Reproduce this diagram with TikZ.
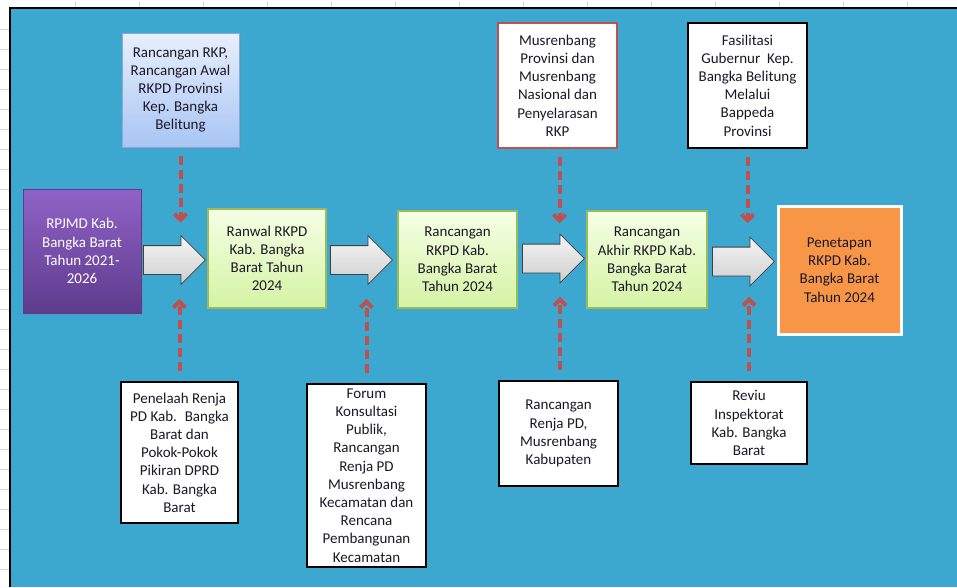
\documentclass[tikz,border=0pt]{standalone}
\usepackage{fontspec}
\setmainfont{Carlito}
\usepackage{tikz}
\usetikzlibrary{arrows.meta,shapes.arrows,shadows}
\usepackage{xcolor}
\definecolor{bgblue}{RGB}{60,168,208}
\definecolor{gridgray}{RGB}{215,215,215}
\definecolor{txtdark}{RGB}{28,24,40}
\definecolor{rkpblue1}{RGB}{232,239,253}
\definecolor{rkpblue2}{RGB}{168,197,244}
\definecolor{rkpedge}{RGB}{140,168,214}
\definecolor{purple1}{RGB}{143,99,199}
\definecolor{purple2}{RGB}{94,59,140}
\definecolor{green1}{RGB}{245,255,229}
\definecolor{green2}{RGB}{212,243,164}
\definecolor{greenedge}{RGB}{155,187,89}
\definecolor{dforange}{RGB}{247,150,70}
\definecolor{dfred}{RGB}{192,80,77}
\tikzstyle{box} = [rectangle, align=center, text=txtdark, inner sep=0pt, font=\fontsize{15}{18.2}\selectfont]
\tikzstyle{plainbox} = [box, draw=black, fill=white, line width=2.5pt]
\tikzstyle{redbox} = [box, draw=dfred, fill=white, line width=2.5pt]
\tikzstyle{bluebox} = [box, draw=rkpedge, top color=rkpblue1, bottom color=rkpblue2, line width=1pt, drop shadow={opacity=0.25,shadow xshift=1.5pt,shadow yshift=-1.5pt}]
\tikzstyle{purplebox} = [box, text=white, draw=purple2, top color=purple1, bottom color=purple2, line width=1pt, drop shadow={opacity=0.25,shadow xshift=1.5pt,shadow yshift=-1.5pt}]
\tikzstyle{greenbox} = [box, draw=greenedge, top color=green1, bottom color=green2, line width=1.2pt]
\tikzstyle{finalbox} = [box, draw=white, fill=dforange, line width=3pt]
\tikzstyle{blockarrow} = [single arrow, single arrow tip angle=90, single arrow head extend=10pt, minimum height=62pt, inner xsep=0pt, inner ysep=14pt, anchor=tail, draw=black!75, line width=0.8pt, top color=gray!8, bottom color=gray!38]
\tikzstyle{feed} = [draw=dfred, line width=4pt, dash pattern=on 9pt off 5pt, -{Straight Barb[length=6pt,width=12pt]}]

\begin{document}
\begin{tikzpicture}[x=1pt,y=-1pt]
\useasboundingbox (0,0) rectangle (957,587);
% sheet behind the diagram
\foreach \gx in {75,139,...,907} \draw[gridgray] (\gx,1) -- (\gx,8);
\foreach \gy in {29,49,...,569} \draw[gridgray] (0,\gy) -- (10,\gy);
\fill[bgblue] (10,8) rectangle (957,587);
\draw[line width=1.5pt] (10,587) -- (10,8) -- (957,8);

% main row
\node[purplebox, minimum width=118pt, minimum height=124pt] (rpjmd) at (82,251) {RPJMD Kab.\\Bangka Barat\\Tahun 2021-\\2026};
\node[blockarrow] (ar1) at (143,260) {};
\node[greenbox, minimum width=118pt, minimum height=99pt] (ranwal) at (267,258.5) {Ranwal RKPD\\Kab. Bangka\\Barat Tahun\\2024};
\node[blockarrow] (ar2) at (330,260) {};
\node[greenbox, minimum width=119pt, minimum height=97pt] (rkpd) at (457.5,259.5) {Rancangan\\RKPD Kab.\\Bangka Barat\\Tahun 2024};
\node[blockarrow] (ar3) at (522,258.5) {};
\node[greenbox, minimum width=120pt, minimum height=97pt] (akhir) at (647,259.5) {Rancangan\\Akhir RKPD Kab.\\Bangka Barat\\Tahun 2024};
\node[blockarrow] (ar4) at (712,261.5) {};
\node[finalbox, minimum width=123pt, minimum height=128pt] (penetapan) at (839.5,270) {Penetapan\\RKPD Kab.\\Bangka Barat\\Tahun 2024};

% inputs from above
\node[bluebox, minimum width=117pt, minimum height=114pt] (rkp) at (180.5,90) {Rancangan RKP,\\Rancangan Awal\\RKPD Provinsi\\Kep. Bangka\\Belitung};
\node[redbox, minimum width=119pt, minimum height=125pt] (musprov) at (557.5,85.5) {Musrenbang\\Provinsi dan\\Musrenbang\\Nasional dan\\Penyelarasan\\RKP};
\node[plainbox, minimum width=119pt, minimum height=125pt] (fasil) at (747.5,85.5) {Fasilitasi\\Gubernur~ Kep.\\Bangka Belitung\\Melalui\\Bappeda\\Provinsi};

% inputs from below
\node[plainbox, minimum width=117pt, minimum height=141pt] (penelaah) at (179.5,452.5) {Penelaah Renja\\PD Kab.~ Bangka\\Barat dan\\Pokok-Pokok\\Pikiran DPRD\\Kab. Bangka\\Barat};
\node[plainbox, minimum width=119pt, minimum height=183pt] (forum) at (366.5,475.5) {Forum\\Konsultasi\\Publik,\\Rancangan\\Renja PD\\Musrenbang\\Kecamatan dan\\Rencana\\Pembangunan\\Kecamatan};
\node[plainbox, minimum width=119pt, minimum height=105pt] (renja) at (558.5,433.5) {Rancangan\\Renja PD,\\Musrenbang\\Kabupaten};
\node[plainbox, minimum width=116pt, minimum height=82pt] (reviu) at (749,423) {Reviu\\Inspektorat\\Kab. Bangka\\Barat};

% dashed feeds
\draw[feed] ([yshift=-8pt]rkp.south) -- ([yshift=-75pt]rkp.south);
\draw[feed] ([xshift=2pt,yshift=-8pt]musprov.south) -- ([xshift=2pt,yshift=-74pt]musprov.south);
\draw[feed] ([yshift=-8pt]fasil.south) -- ([yshift=-74pt]fasil.south);
\draw[feed] ([yshift=10pt]penelaah.north) -- ([yshift=82pt]penelaah.north);
\draw[feed] ([yshift=10pt]forum.north) -- ([yshift=84pt]forum.north);
\draw[feed] ([xshift=1.5pt,yshift=10pt]renja.north) -- ([xshift=1.5pt,yshift=83pt]renja.north);
\draw[feed] ([yshift=10pt]reviu.north) -- ([yshift=84pt]reviu.north);
\end{tikzpicture}
\end{document}
